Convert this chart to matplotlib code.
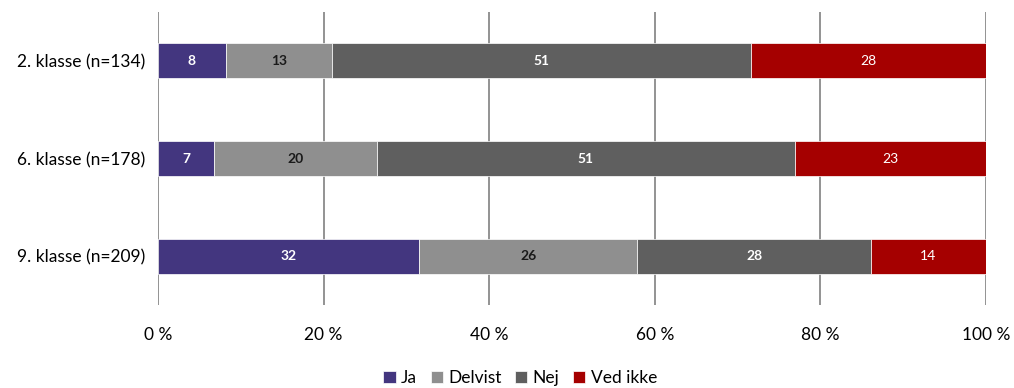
import matplotlib
matplotlib.use("Agg")
import matplotlib.pyplot as plt
import numpy as np

categories = ["2. klasse (n=134)", "6. klasse (n=178)", "9. klasse (n=209)"]
series = ["Ja", "Delvist", "Nej", "Ved ikke"]
ja = [8.2, 6.8, 31.5]
delvist = [12.8, 19.6, 26.4]
nej = [50.6, 50.5, 28.2]
ved_ikke = [28.4, 23.1, 13.9]
labels_ja = [8, 7, 32]
labels_delvist = [13, 20, 26]
labels_nej = [51, 51, 28]
labels_ved = [28, 23, 14]
xticks = [0, 20, 40, 60, 80, 100]

colors = ["#43367F", "#8F8F8F", "#5F5F5F", "#A50000"]
text_colors = ["white", "#1a1a1a", "white", "white"]
weights = ["bold", "bold", "bold", "normal"]

plt.rcParams['font.family'] = ['Lato', 'DejaVu Sans']

fig = plt.figure(figsize=(10.14, 3.88), dpi=100)
ax = fig.add_axes([158/1014, 1 - 305/388, (986-158)/1014, (305-12)/388])

y = np.arange(len(categories))
data = [ja, delvist, nej, ved_ikke]
labs = [labels_ja, labels_delvist, labels_nej, labels_ved]
left = np.zeros(len(categories))
for vals, lab, col, tc, w, name in zip(data, labs, colors, text_colors, weights, series):
    vals = np.array(vals)
    ax.barh(y, vals, left=left, height=0.355, color=col, label=name,
            edgecolor="white", linewidth=0.5, zorder=3)
    for yi, l, v, t in zip(y, left, vals, lab):
        ax.text(l + v/2, yi, str(t), ha="center", va="center", color=tc,
                fontsize=10, fontweight=w, zorder=4)
    left = left + vals

ax.set_ylim(2.5, -0.5)
ax.set_xlim(0, 100)
ax.set_xticks(xticks)
ax.set_xticklabels([f"{t} %" for t in xticks], fontsize=12.5)
ax.set_yticks(y)
ax.set_yticklabels(categories, fontsize=12.5)
ax.tick_params(axis="both", length=0)
ax.tick_params(axis="x", pad=16)
ax.tick_params(axis="y", pad=9)
for s in ax.spines.values():
    s.set_visible(False)
ax.xaxis.grid(True, color="#8a8a8a", linewidth=1.3, zorder=0)
ax.set_axisbelow(True)

fig.legend(loc="center", bbox_to_anchor=(0.513, 1 - 378/388), ncol=4,
           frameon=False, fontsize=12.5, handlelength=0.7, handleheight=0.7,
           handletextpad=0.3, columnspacing=0.8)

fig.savefig("out.png", dpi=100)
